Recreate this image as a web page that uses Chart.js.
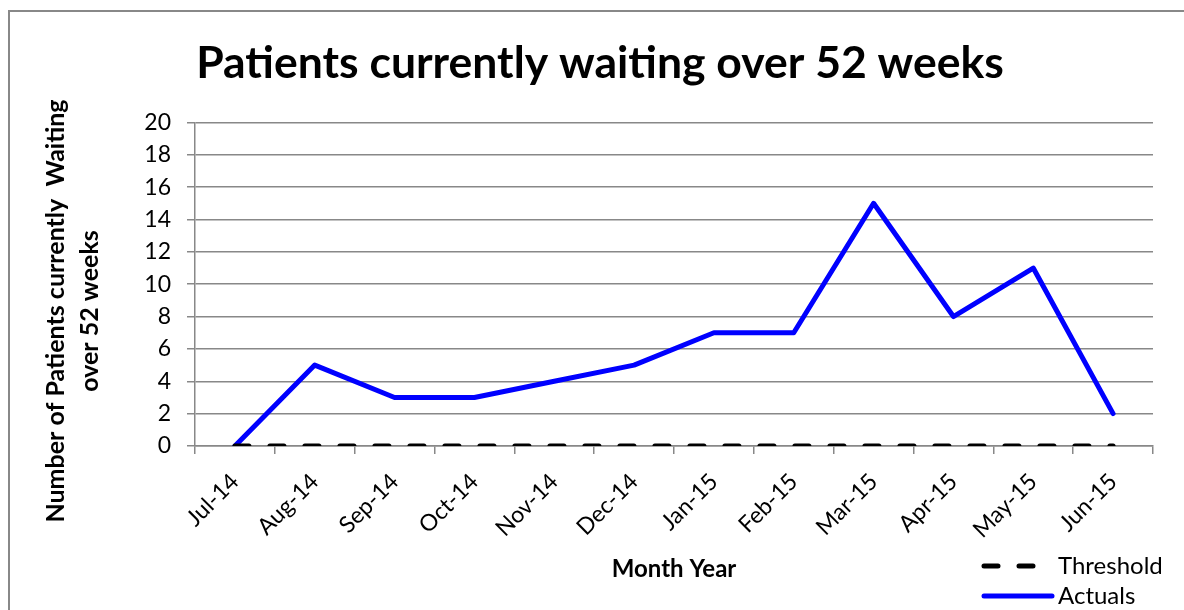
<!DOCTYPE html>
<html>
<head>
<meta charset="utf-8">
<script src="https://cdn.jsdelivr.net/npm/chart.js@4"></script>
<style>
  html, body { margin: 0; padding: 0; background: #fff; }
  #wrap { width: 1184px; height: 610px; position: relative; }
</style>
</head>
<body>
<div id="wrap"><canvas id="chart" width="1184" height="610"></canvas></div>
<script>
const months = ['Jul-14', 'Aug-14', 'Sep-14', 'Oct-14', 'Nov-14', 'Dec-14',
                'Jan-15', 'Feb-15', 'Mar-15', 'Apr-15', 'May-15', 'Jun-15'];
const threshold = [0, 0, 0, 0, 0, 0, 0, 0, 0, 0, 0, 0];
const actuals = [0, 5, 3, 3, 4, 5, 7, 7, 15, 8, 11, 2];
const yTicks = [0, 2, 4, 6, 8, 10, 12, 14, 16, 18, 20];

const chartTitle = 'Patients currently waiting over 52 weeks';
const yTitle = ['Number of Patients currently  Waiting', 'over 52 weeks'];
const xTitle = 'Month Year';

const FONT = 'Lato, Carlito, Calibri, sans-serif';

// frame, y axis title and legend drawn by hand
const extras = {
    id: 'extras',
    beforeDraw(chart) {
        const ctx = chart.ctx;
        ctx.save();
        ctx.fillStyle = '#fff';
        ctx.fillRect(0, 0, chart.width, chart.height);
        ctx.strokeStyle = '#888';
        ctx.lineWidth = 2;
        ctx.strokeRect(9, 11, 1200, 700);
        ctx.restore();
    },
    afterDraw(chart) {
        const ctx = chart.ctx;
        ctx.save();
        // y axis title, two lines
        ctx.translate(0, 311);
        ctx.rotate(-Math.PI / 2);
        ctx.fillStyle = '#000';
        ctx.font = 'bold 25px ' + FONT;
        ctx.textAlign = 'center';
        ctx.textBaseline = 'middle';
        ctx.fillText(yTitle[0], 0, 56);
        ctx.fillText(yTitle[1], 0, 90);
        ctx.restore();

        // legend
        ctx.save();
        const ds = chart.data.datasets;
        const rows = [566, 596];
        const ends = [1036, 1052];
        ds.forEach((d, i) => {
            const y = rows[i];
            ctx.strokeStyle = d.borderColor;
            ctx.lineWidth = d.borderWidth;
            ctx.lineCap = d.borderCapStyle || 'butt';
            ctx.setLineDash(d.borderDash || []);
            ctx.beginPath();
            ctx.moveTo(984, y);
            ctx.lineTo(ends[i], y);
            ctx.stroke();
            ctx.setLineDash([]);
            ctx.fillStyle = '#000';
            ctx.font = '24px ' + FONT;
            ctx.textAlign = 'left';
            ctx.textBaseline = 'middle';
            ctx.fillText(d.label, 1058, y);
        });
        ctx.restore();
    }
};

new Chart(document.getElementById('chart'), {
    type: 'line',
    data: {
        labels: months,
        datasets: [{
            label: 'Threshold',
            data: threshold,
            borderColor: '#000',
            borderWidth: 5,
            borderDash: [14, 21],
            borderCapStyle: 'round',
            pointRadius: 0,
            tension: 0
        }, {
            label: 'Actuals',
            data: actuals,
            borderColor: '#0000ff',
            borderWidth: 5,
            borderCapStyle: 'round',
            borderJoinStyle: 'round',
            pointRadius: 0,
            tension: 0
        }]
    },
    options: {
        responsive: false,
        animation: false,
        layout: { padding: { left: 47, right: 31, top: 0, bottom: 26 } },
        plugins: {
            legend: { display: false },
            tooltip: { enabled: false },
            title: {
                display: true,
                text: chartTitle,
                color: '#000',
                font: { family: FONT, size: 44.5, weight: 'bold' },
                padding: { top: 37, bottom: 32 }
            }
        },
        scales: {
            x: {
                offset: true,
                grid: {
                    offset: true,
                    drawOnChartArea: false,
                    color: '#888',
                    lineWidth: 1.5,
                    tickLength: 8
                },
                border: { color: '#888', width: 1.5 },
                ticks: {
                    color: '#000',
                    font: { family: FONT, size: 23 },
                    minRotation: 45,
                    maxRotation: 45,
                    autoSkip: false,
                    padding: 14
                },
                title: {
                    display: true,
                    text: xTitle,
                    color: '#000',
                    font: { family: FONT, size: 24, weight: 'bold' },
                    padding: { top: 6, bottom: 0 }
                },
                afterFit: s => { s.height = 138; }
            },
            y: {
                min: 0,
                max: 20,
                afterBuildTicks: s => { s.ticks = yTicks.map(v => ({ value: v })); },
                grid: { color: '#888', lineWidth: 1.5, tickLength: 8 },
                border: { color: '#888', width: 1.5 },
                ticks: {
                    color: '#000',
                    font: { family: FONT, size: 23 },
                    padding: 16
                },
                afterFit: s => { s.width = 148; }
            }
        }
    },
    plugins: [extras]
});
</script>
</body>
</html>
